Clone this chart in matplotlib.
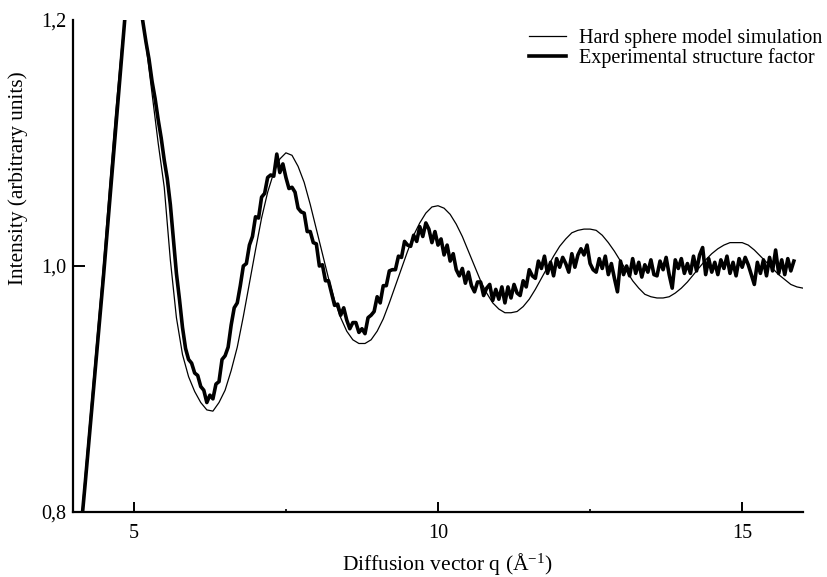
import numpy as np
import matplotlib
matplotlib.use("Agg")
import matplotlib.pyplot as plt

plt.rcParams['font.family'] = ['Liberation Serif', 'DejaVu Serif']
plt.rcParams['mathtext.fontset'] = 'custom'
plt.rcParams['mathtext.rm'] = 'Liberation Serif'
plt.rcParams['mathtext.it'] = 'Liberation Serif:italic'

# Hard sphere model simulation (smooth), q from 4.1 to 16.0 step 0.1
sim_q_start, sim_q_end = 4.1, 16.0
sim_I = [
    0.770, 0.830, 0.887, 0.944, 1.000, 1.064, 1.124, 1.178, 1.222, 1.244,   # 4.1-5.0
    1.215, 1.180, 1.140, 1.100, 1.064, 1.005, 0.958, 0.928, 0.910, 0.898,   # 5.1-6.0
    0.889, 0.883, 0.882, 0.889, 0.899, 0.915, 0.934, 0.959, 0.986, 1.013,   # 6.1-7.0
    1.039, 1.060, 1.076, 1.087, 1.092, 1.090, 1.081, 1.068, 1.050, 1.030,   # 7.1-8.0
    1.010, 0.990, 0.972, 0.958, 0.947, 0.940, 0.937, 0.937, 0.940, 0.947,   # 8.1-9.0
    0.957, 0.970, 0.984, 0.998, 1.012, 1.025, 1.035, 1.043, 1.048, 1.049,   # 9.1-10.0
    1.047, 1.042, 1.034, 1.024, 1.012, 1.000, 0.988, 0.978, 0.970, 0.965,   # 10.1-11.0
    0.962, 0.962, 0.963, 0.967, 0.973, 0.981, 0.990, 0.999, 1.008, 1.016,   # 11.1-12.0
    1.022, 1.027, 1.029, 1.030, 1.030, 1.029, 1.025, 1.019, 1.012, 1.004,   # 12.1-13.0
    0.996, 0.988, 0.982, 0.977, 0.975, 0.974, 0.974, 0.975, 0.978, 0.982,   # 13.1-14.0
    0.987, 0.993, 0.999, 1.005, 1.010, 1.014, 1.017, 1.019, 1.019, 1.019,   # 14.1-15.0
    1.017, 1.013, 1.008, 1.003, 0.998, 0.993, 0.989, 0.985, 0.983, 0.982,   # 15.1-16.0
]

# Experimental structure factor (noisy), q from 4.10 to 15.85 step 0.05
exp_q_start, exp_q_end = 4.10, 15.85
exp_I = [
    0.770, 0.796, 0.823, 0.851, 0.878, 0.906, 0.935, 0.963, 0.991, 1.021,   # 4.10-4.55
    1.050, 1.081, 1.111, 1.141, 1.171, 1.200, 1.224, 1.240, 1.246, 1.238,   # 4.60-5.05
    1.215, 1.198, 1.182, 1.168, 1.150, 1.136, 1.119, 1.104, 1.086, 1.071,   # 5.10-5.55
    1.050, 1.022, 0.994, 0.973, 0.950, 0.933, 0.924, 0.921, 0.913, 0.911,   # 5.60-6.05
    0.902, 0.899, 0.889, 0.895, 0.892, 0.904, 0.906, 0.924, 0.927, 0.934,   # 6.10-6.55
    0.952, 0.966, 0.970, 0.984, 1.000, 1.002, 1.017, 1.024, 1.040, 1.039,   # 6.60-7.05
    1.056, 1.059, 1.072, 1.074, 1.073, 1.091, 1.076, 1.083, 1.072, 1.063,   # 7.10-7.55
    1.064, 1.060, 1.047, 1.044, 1.043, 1.028, 1.028, 1.019, 1.018, 1.000,   # 7.60-8.05
    1.001, 0.988, 0.988, 0.978, 0.968, 0.969, 0.960, 0.966, 0.956, 0.949,   # 8.10-8.55
    0.954, 0.954, 0.946, 0.949, 0.945, 0.958, 0.960, 0.963, 0.975, 0.970,   # 8.60-9.05
    0.984, 0.984, 0.996, 0.997, 0.997, 1.008, 1.007, 1.020, 1.017, 1.016,   # 9.10-9.55
    1.025, 1.020, 1.032, 1.024, 1.035, 1.030, 1.019, 1.028, 1.017, 1.022,   # 9.60-10.05
    1.009, 1.017, 1.004, 1.010, 0.997, 0.992, 0.998, 0.986, 0.995, 0.984,   # 10.10-10.55
    0.979, 0.987, 0.987, 0.976, 0.982, 0.985, 0.972, 0.981, 0.973, 0.983,   # 10.60-11.05
    0.970, 0.983, 0.974, 0.985, 0.978, 0.976, 0.988, 0.983, 0.997, 0.992,   # 11.10-11.55
    0.990, 1.004, 0.998, 1.008, 0.994, 1.003, 0.992, 1.006, 0.999, 1.007,   # 11.60-12.05
    1.002, 0.995, 1.010, 0.999, 1.009, 1.014, 1.009, 1.017, 1.002, 0.997,   # 12.10-12.55
    0.995, 1.006, 0.998, 1.008, 0.993, 1.002, 0.990, 0.979, 1.004, 0.993,   # 12.60-13.05
    1.000, 0.992, 1.006, 0.994, 1.003, 0.991, 1.001, 0.995, 1.005, 0.993,   # 13.10-13.55
    0.992, 1.004, 0.997, 1.007, 0.993, 0.982, 1.005, 0.998, 1.006, 0.994,   # 13.60-14.05
    1.002, 0.994, 1.008, 0.996, 1.009, 1.015, 0.993, 1.006, 0.995, 1.003,   # 14.10-14.55
    0.993, 1.005, 0.998, 1.008, 0.994, 1.003, 0.992, 1.006, 0.999, 1.007,   # 14.60-15.05
    1.001, 0.993, 0.985, 1.003, 0.994, 1.005, 0.992, 1.007, 0.996, 1.013,   # 15.10-15.55
    0.994, 1.005, 0.993, 1.006, 0.996, 1.004,                               # 15.60-15.85
]

x_ticks = [5, 10, 15]
x_ticklabels = ["5", "10", "15"]
x_minor_ticks = [7.5, 12.5]
y_ticks = [0.8, 1.0, 1.2]
y_ticklabels = ["0,8", "1,0", "1,2"]

sim_q = np.linspace(sim_q_start, sim_q_end, len(sim_I))
exp_q = np.linspace(exp_q_start, exp_q_end, len(exp_I))

W, H = 827, 577
fig = plt.figure(figsize=(W / 100, H / 100), dpi=100)
ax = fig.add_axes([73 / W, 1 - 512 / H, (803 - 73) / W, (512 - 20) / H])

l_sim, = ax.plot(sim_q, sim_I, color='black', lw=0.9, zorder=3)
l_exp, = ax.plot(exp_q, exp_I, color='black', lw=2.6, zorder=2)

ax.set_xlim(4, 16)
ax.set_ylim(0.8, 1.2)
ax.spines['top'].set_visible(False)
ax.spines['right'].set_visible(False)
for s in ['left', 'bottom']:
    ax.spines[s].set_linewidth(1.6)

ax.set_xticks(x_ticks)
ax.set_xticklabels(x_ticklabels)
ax.set_xticks(x_minor_ticks, minor=True)
ax.set_yticks(y_ticks)
ax.set_yticklabels(y_ticklabels)
ax.tick_params(axis='x', which='major', direction='in', length=7.5, width=1.4, labelsize=14.5, pad=9)
ax.tick_params(axis='x', which='minor', direction='in', length=2.5, width=1.2)
ax.tick_params(axis='y', which='major', direction='in', length=8.6, width=1.4, labelsize=14.5, pad=5)
yt = ax.yaxis.get_major_ticks()
yt[0].tick1line.set_visible(False)
yt[2].tick1line.set_visible(False)

fig.text(447.5 / W, 1 - 570 / H, 'Diffusion vector q (Å$^{\\mathrm{-1}}$)', fontsize=15.5,
         ha='center', va='baseline')
fig.text(18 / W, 1 - 178.5 / H, 'Intensity (arbitrary units)', fontsize=15.3,
         ha='center', va='center', rotation=90)

fig.legend([l_sim, l_exp], ['Hard sphere model simulation', 'Experimental structure factor'],
           loc='upper right', bbox_to_anchor=(822 / W, 1 - 29 / H), frameon=False,
           fontsize=14.5, handlelength=1.84, handletextpad=0.65, labelspacing=0.0,
           borderpad=0.0, borderaxespad=0.0)

fig.savefig('out.png', dpi=100)
